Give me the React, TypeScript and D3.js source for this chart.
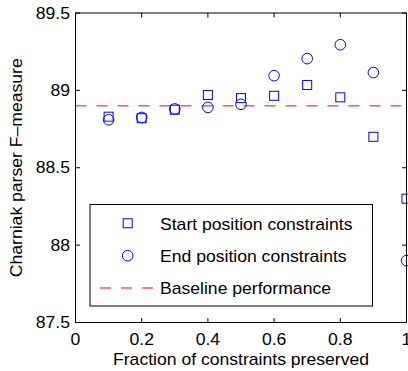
import React from "react";
import * as d3 from "d3";

const fractions = [0.1, 0.2, 0.3, 0.4, 0.5, 0.6, 0.7, 0.8, 0.9, 1.0];
const startValues = [88.83, 88.82, 88.875, 88.97, 88.95, 88.965, 89.035, 88.955, 88.70, 88.30];
const endValues = [88.81, 88.825, 88.88, 88.89, 88.91, 89.095, 89.205, 89.295, 89.115, 87.90];
const baseline = 88.9;
const xTicks = [0, 0.2, 0.4, 0.6, 0.8, 1];
const yTicks = [87.5, 88, 88.5, 89, 89.5];
const xTickLabels = ["0", "0.2", "0.4", "0.6", "0.8", "1"];
const yTickLabels = ["87.5", "88", "88.5", "89", "89.5"];
const legendLabels = ["Start position constraints", "End position constraints", "Baseline performance"];

const W = 408, H = 371;
const L = 75.5, R = 406.5, T = 13, B = 322.5;
const BLUE = "#0000ff";
const FONT = "'Liberation Sans', Arial, Helvetica, sans-serif";
const FS = 16;
const SX = 1.1;

function T2({ x, y, anchor = "start", rotate = 0, children }: any) {
  return (
    <text
      transform={`translate(${x},${y}) rotate(${rotate}) scale(${SX},1)`}
      textAnchor={anchor}
      fontSize={FS}
      fill="#000"
    >
      {children}
    </text>
  );
}

export default function App() {
  const x = d3.scaleLinear().domain([0, 1]).range([L, R]);
  const y = d3.scaleLinear().domain([87.5, 89.5]).range([B, T]);
  const tk = 4.5;
  const sq = 9;
  const cr = 5.3;
  return (
    <div style={{ position: "absolute", left: 0, top: 0 }}>
      <svg width={W} height={H} style={{ display: "block", background: "#fff" }} fontFamily={FONT}>
        <line x1={L} x2={R} y1={y(baseline)} y2={y(baseline)} stroke="#ff0000" strokeWidth={1} strokeDasharray="11,10" />
        {fractions.map((f, i) => (
          <rect key={"s" + i} x={x(f) - sq / 2} y={y(startValues[i]) - sq / 2} width={sq} height={sq} fill="none" stroke={BLUE} strokeWidth={1} />
        ))}
        {fractions.map((f, i) => (
          <circle key={"c" + i} cx={x(f)} cy={y(endValues[i])} r={cr} fill="none" stroke={BLUE} strokeWidth={1} />
        ))}
        <rect x={L} y={T} width={R - L} height={B - T} fill="none" stroke="#000" strokeWidth={1} />
        {xTicks.map((t, i) => (
          <g key={"xt" + i}>
            <line x1={x(t)} x2={x(t)} y1={B} y2={B - tk} stroke="#000" />
            <line x1={x(t)} x2={x(t)} y1={T} y2={T + tk} stroke="#000" />
            <T2 x={x(t)} y={344.5} anchor="middle">{xTickLabels[i]}</T2>
          </g>
        ))}
        {yTicks.map((t, i) => (
          <g key={"yt" + i}>
            <line x1={L} x2={L + tk} y1={y(t)} y2={y(t)} stroke="#000" />
            <line x1={R} x2={R - tk} y1={y(t)} y2={y(t)} stroke="#000" />
            <T2 x={70} y={y(t) + 5.6} anchor="end">{yTickLabels[i]}</T2>
          </g>
        ))}
        <T2 x={(L + R) / 2} y={365} anchor="middle">Fraction of constraints preserved</T2>
        <T2 x={21.8} y={(T + B) / 2} anchor="middle" rotate={-90}>Charniak parser F–measure</T2>
        <rect x={90} y={204.5} width={282.5} height={101.5} fill="#fff" stroke="#000" strokeWidth={1} />
        <rect x={127.7 - sq / 2} y={223.3 - sq / 2} width={sq} height={sq} fill="none" stroke={BLUE} />
        <circle cx={127.7} cy={255.7} r={cr} fill="none" stroke={BLUE} />
        <line x1={100} x2={155} y1={288} y2={288} stroke="#ff0000" strokeDasharray="11,10" />
        <T2 x={160} y={230}>{legendLabels[0]}</T2>
        <T2 x={160} y={262}>{legendLabels[1]}</T2>
        <T2 x={160} y={294}>{legendLabels[2]}</T2>
      </svg>
    </div>
  );
}
